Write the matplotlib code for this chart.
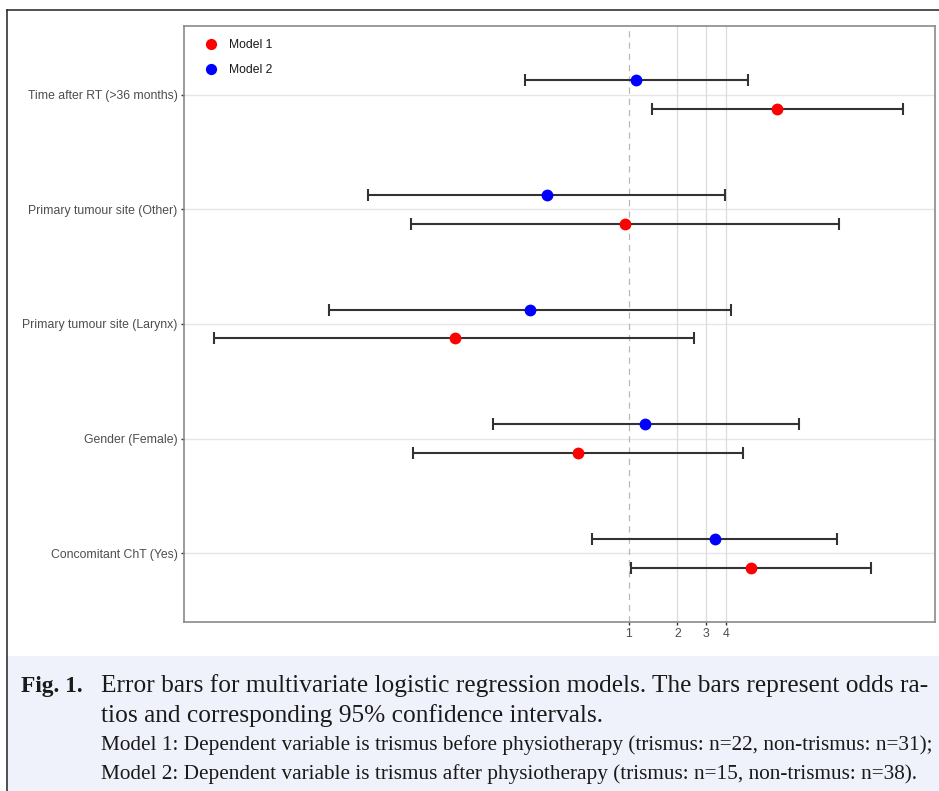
import matplotlib
matplotlib.use("Agg")
import matplotlib.pyplot as plt
from matplotlib.patches import Rectangle
from matplotlib.lines import Line2D
import numpy as np

# rows, bottom to top
categories = ["Concomitant ChT (Yes)", "Gender (Female)", "Primary tumour site (Larynx)",
              "Primary tumour site (Other)", "Time after RT (>36 months)"]

m1_or = [5.67, 0.49, 0.086, 0.95, 8.2]
m1_lo = [1.03, 0.047, 0.0028, 0.046, 1.40]
m1_hi = [31.1, 5.1, 2.53, 19.7, 48.9]

m2_or = [3.40, 1.27, 0.247, 0.315, 1.11]
m2_lo = [0.60, 0.146, 0.0143, 0.025, 0.23]
m2_hi = [19.3, 11.2, 4.30, 3.93, 5.40]

x_ticks = [1, 2, 3, 4]

plt.rcParams["font.family"] = ["Liberation Sans", "DejaVu Sans"]

fig = plt.figure(figsize=(9.39, 7.91), dpi=100)
fig.patch.set_facecolor("white")

# caption box + outer frame
fig.patches.append(Rectangle((0.0075, 0), 1, 1 - 656 / 791, transform=fig.transFigure,
                             facecolor="#eff2fa", edgecolor="none", zorder=0))
fig.lines.append(Line2D([0.0075, 1], [1 - 10 / 791] * 2, transform=fig.transFigure,
                        color="#222222", lw=1.1))
fig.lines.append(Line2D([0.0075, 0.0075], [0, 1 - 10 / 791], transform=fig.transFigure,
                        color="#222222", lw=1.1))

ax = fig.add_axes([184 / 939, 1 - 622 / 791, (935 - 184) / 939, (622 - 26) / 791])
ax.set_xscale("log")
ax.set_xlim(0.00184, 76.9)
ax.set_ylim(0.4, 5.6)

y = np.arange(1, len(categories) + 1)
dodge = 0.125

for v in y:
    ax.axhline(v, color="#e6e6e6", lw=1.0, zorder=0)
for t in x_ticks[1:]:
    ax.axvline(t, color="#dcdcdc", lw=0.9, zorder=0)
ax.axvline(1, color="#b8b8b8", lw=0.9, ls=(0, (5, 4)), zorder=0.5)

for ors, lo, hi, off, col, lab in [(m1_or, m1_lo, m1_hi, -dodge, "#ff0000", "Model 1"),
                                   (m2_or, m2_lo, m2_hi, dodge, "#0000ff", "Model 2")]:
    ors = np.array(ors)
    err = [ors - np.array(lo), np.array(hi) - ors]
    ax.errorbar(ors, y + off, xerr=err, fmt="none", ecolor="#333333", elinewidth=1.5,
                capsize=4, capthick=1.5, zorder=2)
    ax.plot(ors, y + off, "o", color=col, markersize=8.5, markeredgewidth=0, zorder=3, label=lab)

ax.set_yticks(y)
ax.set_yticklabels(categories)
ax.set_xticks(x_ticks)
ax.set_xticklabels([str(t) for t in x_ticks])
ax.minorticks_off()
ax.tick_params(axis="both", length=2.5, width=1, color="#333333", labelcolor="#4d4d4d",
               labelsize=8.8, pad=2)
for s in ax.spines.values():
    s.set_color("#8a8a8a")
    s.set_linewidth(1.2)

ax.legend(loc="upper left", bbox_to_anchor=(0.008, 0.992), frameon=False, fontsize=8.7,
          handletextpad=0.55, labelspacing=1.05, borderaxespad=0.3, markerscale=0.95,
          labelcolor="#1a1a1a")

# caption
serif = ["Liberation Serif", "DejaVu Serif"]
fig.text(21 / 939, 1 - 692 / 791, "Fig. 1.", family=serif, fontsize=16.8, fontweight="bold",
         va="baseline", color="#1a1a1a")
fig.text(101 / 939, 1 - 692 / 791,
         "Error bars for multivariate logistic regression models. The bars represent odds ra-",
         family=serif, fontsize=18.3, va="baseline", color="#1a1a1a")
fig.text(101 / 939, 1 - 722 / 791, "tios and corresponding 95% confidence intervals.",
         family=serif, fontsize=18.3, va="baseline", color="#1a1a1a")
fig.text(101 / 939, 1 - 750 / 791,
         "Model 1: Dependent variable is trismus before physiotherapy (trismus: n=22, non-trismus: n=31);",
         family=serif, fontsize=15.35, va="baseline", color="#1a1a1a")
fig.text(101 / 939, 1 - 779 / 791,
         "Model 2: Dependent variable is trismus after physiotherapy (trismus: n=15, non-trismus: n=38).",
         family=serif, fontsize=15.35, va="baseline", color="#1a1a1a")

fig.savefig("out.png", dpi=100)
